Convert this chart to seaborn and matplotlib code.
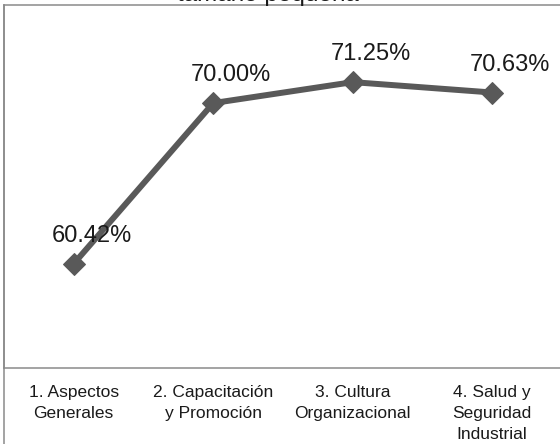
import matplotlib
matplotlib.use("Agg")
import matplotlib.pyplot as plt
from matplotlib.lines import Line2D
import seaborn as sns
import pandas as pd

categories = [
    "1. Aspectos\nGenerales",
    "2. Capacitación\ny Promoción",
    "3. Cultura\nOrganizacional",
    "4. Salud y\nSeguridad\nIndustrial",
]
scores = [60.42, 70.00, 71.25, 70.63]
title = "tamaño pequeña"

sns.set_theme(style="white")
plt.rcParams["font.family"] = ["Liberation Sans", "DejaVu Sans"]

W, H, DPI = 560, 444, 100
fig = plt.figure(figsize=(W / DPI, H / DPI), dpi=DPI)
fig.patch.set_facecolor("white")

# plot area in pixel terms: left 4, right 562, top 5, bottom 368
left, right, top, bottom = 4, 562, 5, 368
ax = fig.add_axes([left / W, (H - bottom) / H, (right - left) / W, (bottom - top) / H])
ax.set_facecolor("white")

df = pd.DataFrame({"pos": range(len(categories)), "score": scores})
line_color = "#595959"
sns.lineplot(data=df, x="pos", y="score", ax=ax, color=line_color,
             linewidth=4.3, marker="D", markersize=11,
             markeredgecolor=line_color, markerfacecolor=line_color)

for x, v in zip(df["pos"], df["score"]):
    ax.annotate(f"{v:.2f}%", (x, v), xytext=(13, 20), textcoords="offset points",
                ha="center", va="center", fontsize=17, color="#1a1a1a")

ax.set_xlim(-0.5, 3.5)
ax.set_ylim(54.2, 75.85)
ax.set_xticks(list(df["pos"]))
ax.set_xticklabels(categories, fontsize=12.5, color="#1a1a1a", linespacing=1.5)
ax.tick_params(axis="x", length=0, pad=12.5)
ax.set_yticks([])
ax.set_xlabel("")
ax.set_ylabel("")

frame_color = "#8a8a8a"
for side in ["left", "top", "bottom"]:
    ax.spines[side].set_visible(True)
    ax.spines[side].set_color(frame_color)
    ax.spines[side].set_linewidth(1.1)
ax.spines["right"].set_visible(False)

# outer border continues down the left edge past the category labels
fig.add_artist(Line2D([left / W, left / W], [0, (H - top) / H],
                      transform=fig.transFigure, color=frame_color, linewidth=1.1))

# title sitting at the very top edge
fig.text(268 / W, 1 - 1.5 / H, title, ha="center", va="baseline",
         fontsize=17.5, color="#1a1a1a")

fig.savefig("out.png", dpi=DPI, facecolor="white")
